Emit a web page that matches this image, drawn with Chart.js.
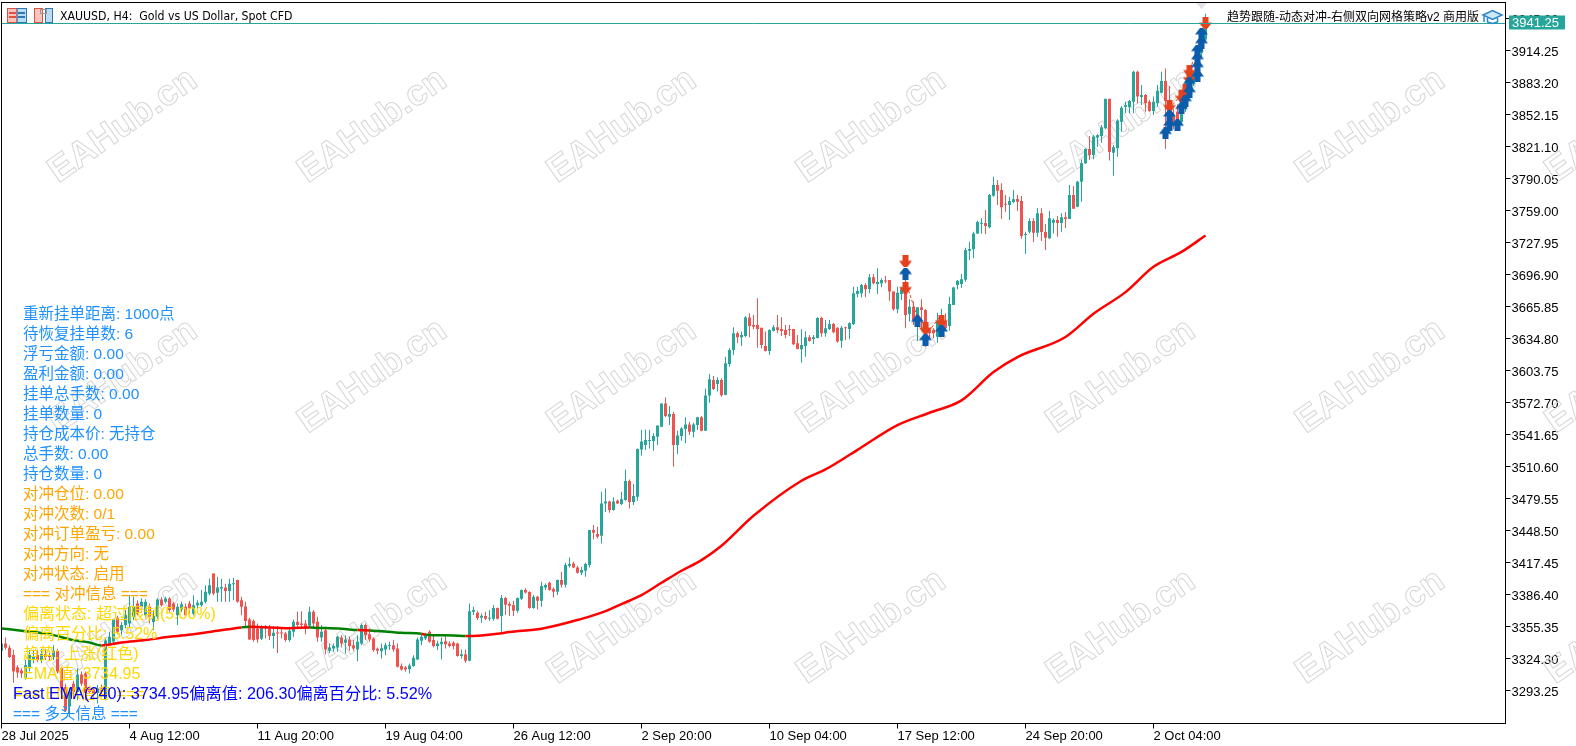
<!DOCTYPE html>
<html>
<head>
<meta charset="utf-8">
<title>XAUUSD H4</title>
<script src="https://cdn.jsdelivr.net/npm/chart.js@4/dist/chart.umd.min.js"></script>
<style>
  html, body { margin: 0; padding: 0; background: #fff; overflow: hidden; }
  canvas { display: block; }
</style>
</head>
<body>
<canvas id="myChart" width="1576" height="746"></canvas>
<script>
// H4 candles, one entry per bar
var opens = [
  3332,3339,3335,3328,3316,3313,3306,3315,3324,3328,
  3323,3329,3328,3326,3332,3315,3297,3278,3300,3292,
  3309,3310,3295.5,3294.5,3291,3295.5,3286,3339,3341,3364,
  3352,3357,3358.5,3365,3378,3374.7,3366.6,3374.7,3360,3365,
  3381.8,3379.6,3382.8,3378,3366.6,3372,3374.7,3378,3368,3376.3,
  3376.3,3379.6,3387.7,3407,3388.3,3392.5,3393.5,3390,3396.7,3400.6,
  3381,3375,3362.4,3361,3353.7,3343.7,3356,3353.7,3346.3,3349.5,
  3349.5,3348.9,3342.4,3350.5,3360.2,3358.6,3358.6,3356.3,3369.9,3360.2,
  3345,3352,3332,3334.3,3335.3,3345,3339.8,3343,3337.5,3333.3,
  3339,3357,3348.2,3344,3334,3331.7,3333.3,3336.6,3337.5,3334.3,
  3317.2,3315.9,3314.2,3317.2,3323.6,3341.7,3344,3350.5,3342.4,3336.6,
  3338.5,3341.4,3339,3339.8,3339,3326.9,3328.8,3322.3,3369.9,3369,
  3364,3365.7,3363.1,3363.1,3373.5,3365.7,3383.2,3377.4,3376.4,3370.9,
  3382.6,3391,3389,3373.5,3384.5,3380.6,3393.5,3398,3391.9,3389.3,
  3400.7,3396.1,3414.6,3416.8,3412.9,3407.8,3409.7,3415.2,3449.2,3445.3,
  3443.7,3475,3477,3468.6,3477.6,3474.4,3478.3,3496.7,3476.3,3481.5,
  3527.4,3531.6,3535.5,3535.5,3539.7,3549.4,3572,3559.1,3561.7,3531.6,
  3540.4,3547.2,3551.7,3544.6,3551,3558.5,3545.5,3579.6,3594.8,3590.9,
  3594.8,3580.2,3610.3,3623.9,3640,3636.2,3637.5,3655.3,3648.1,3648.1,
  3645.5,3627.8,3622.9,3642.6,3645.9,3644.2,3643.3,3643.9,3644.2,3630.3,
  3624.5,3627.8,3636.2,3634.5,3635.5,3654.9,3640,3644.2,3649.1,3645.5,
  3632.9,3645.5,3644.2,3649.1,3678.2,3678.9,3687,3683,3694.4,3687.9,
  3688.6,3691.1,3691.8,3680.5,3663.3,3678.2,3685.3,3658.8,3665.9,3654.6,
  3665.3,3662.7,3643.3,3643.3,3636.8,3646.5,3651.4,3647.2,3667.5,3687,
  3688,3692,3720.2,3721.5,3737,3746.4,3747,3742.9,3773.6,3784,
  3779.1,3765.5,3764.5,3767.4,3770.3,3768.4,3735.4,3738.7,3749,3737.7,
  3756.5,3738.3,3732.2,3747.4,3750,3747,3752.6,3751,3774.2,3762.9,
  3787.2,3805,3818.9,3813.1,3830,3831.5,3839,3867.7,3815.3,3819.5,
  3845.4,3859.6,3859.3,3864.8,3893.9,3869.3,3871.3,3864.8,3855.8,3863.2,
  3873.5,3884.9,3866,3852,3855,3845,3858,3870,3884,3890,3912,3925
];
var highs = [
  3341,3345,3337.5,3333,3318,3315,3323,3333,3333,3333,
  3334,3334,3330,3337.5,3334,3316.5,3300,3295.5,3303,3315,
  3312,3312,3298,3297,3299,3299,3345,3350.5,3363,3366,
  3360,3371.5,3386,3384.4,3381,3383,3382,3378,3371.5,3383,
  3384,3384.4,3384,3379.6,3378,3379.6,3378,3380.5,3386,3381,
  3391,3395.7,3402,3407,3403.8,3402,3397,3402,3403,3401,
  3384.4,3379.6,3364,3362.4,3358.5,3357,3357,3357,3356,3356,
  3353.7,3350.5,3355.3,3362.4,3369.9,3370.5,3361.8,3374.7,3371.5,3365,
  3357,3355.3,3339,3339,3346.3,3347,3347,3345.6,3342.4,3347,
  3358.6,3358.6,3353.7,3345,3335.3,3339,3339.8,3340.8,3342.4,3339,
  3319.7,3317.2,3319.7,3327.8,3345,3348.2,3349.5,3352,3346.3,3341.7,
  3345,3346.3,3341.4,3341.4,3339.8,3333.3,3333.3,3378,3374.8,3370.9,
  3368.3,3370,3371.6,3376.4,3374.1,3386.1,3384.5,3379.6,3380.6,3383.8,
  3391.6,3392.6,3389.7,3386.1,3385.1,3399,3397.4,3399,3393.5,3401.3,
  3408.7,3417.5,3422.6,3418.4,3414.2,3413.6,3417.5,3449.2,3454,3452.4,
  3486.4,3489.6,3477.6,3480.9,3478.9,3486.4,3508,3498.3,3493.8,3528.4,
  3546.2,3546.8,3546.2,3543,3550.7,3572,3577.9,3569.5,3564,3545.6,
  3548.8,3558.5,3554.3,3553.3,3559,3559.8,3586.6,3600.6,3598.7,3597.4,
  3596.4,3617.4,3625.5,3645.9,3641.7,3641.7,3656.9,3659.5,3657.8,3674,
  3645.5,3641.7,3643.9,3648.1,3657.8,3655.6,3648.1,3648.1,3644.2,3638.4,
  3643.9,3641.7,3638.4,3638.4,3655.6,3656.2,3653,3653,3650.4,3645.9,
  3647.2,3646.5,3650.7,3685.3,3685.3,3687.9,3688.6,3697.6,3697.6,3703.1,
  3693.4,3695.7,3691.8,3680.5,3685.3,3685.3,3696.6,3673,3670.8,3665.3,
  3673,3663.3,3644.9,3644.9,3660.1,3664,3659.5,3675.6,3685.3,3691.8,
  3697.6,3723,3729,3738.7,3749.3,3751.6,3759.7,3775.2,3792,3788.8,
  3785.6,3774.2,3772.6,3779.1,3774.2,3773.3,3738.7,3751.6,3751.6,3761.3,
  3761.3,3746.1,3758.7,3751.6,3753.9,3756.5,3757.4,3784,3783,3788,
  3808.8,3819.5,3831.5,3832.5,3833.5,3842.2,3867.7,3867.7,3822.8,3847.7,
  3860.6,3864.8,3866.4,3894.9,3894.9,3881,3872.2,3866.4,3869.7,3881,
  3893.9,3897,3880,3858,3862,3860,3872,3896,3893,3915,3930,3950
];
var lows = [
  3331,3333,3325,3301,3306,3306,3304,3312,3320,3321,
  3320,3323,3323,3323,3310,3287,3273,3268,3285,3284,
  3298,3284,3290,3287,3281,3289,3284,3337.5,3339,3348,
  3347,3354,3355,3362,3366.6,3371.5,3364,3358.5,3352,3363,
  3375,3378,3370,3370,3357,3370,3365,3368,3366.6,3371.5,
  3374.7,3378,3386,3386,3379.6,3379.6,3379.6,3379.6,3381,3378.6,
  3366.6,3355,3342.4,3340.8,3339.8,3342.4,3344,3342.4,3334.3,3330,
  3344,3340.8,3340.8,3345.6,3353.7,3353.7,3348.2,3353.7,3353.7,3340.8,
  3340.8,3328.8,3330,3331,3331,3335.3,3329.4,3332,3332,3322,
  3337.5,3342.4,3340.8,3331,3328.8,3324.6,3327.8,3332.7,3331,3315.9,
  3312.6,3311.7,3310,3316.5,3323,3337.5,3342.4,3339.8,3335.3,3332.7,
  3323.6,3334.3,3335.3,3333.3,3326.2,3324.6,3320.4,3322,3366.7,3361.9,
  3359.3,3361.9,3361.2,3361.2,3362.5,3350.5,3366.7,3365.7,3365.7,3369,
  3381.2,3387.7,3372.9,3372.9,3372.2,3374.8,3391,3390.3,3383.8,3386.1,
  3393.5,3393.5,3412.9,3412,3407.1,3405.5,3403.9,3412.9,3440.1,3441.1,
  3436.2,3466.6,3466,3467.9,3474.4,3473.4,3477.6,3470.2,3473.4,3477.6,
  3521.6,3526.8,3528.4,3526.1,3531.6,3548.8,3558.5,3551,3510.6,3522.9,
  3535.8,3533.3,3541.3,3539,3546.2,3545,3545.5,3572.8,3585.1,3583.5,
  3578.6,3580.2,3607.7,3619,3630.3,3627.8,3636.2,3636.2,3643.9,3626.1,
  3625.5,3622.3,3619,3641.7,3640,3637.5,3635.2,3637.5,3628.7,3624.5,
  3611.6,3617.4,3632,3629.7,3635.2,3636.8,3636.8,3643.3,3640,3631,
  3626.1,3633.6,3634.2,3648.1,3675,3674.7,3675,3678.9,3687.6,3678.2,
  3684.7,3688.6,3671.7,3662,3659.5,3672.4,3644.9,3651.4,3648.1,3632.9,
  3644.9,3627.1,3635.2,3635.2,3631,3643,3643.3,3642.6,3667.5,3682.7,
  3684,3690,3711.2,3712.8,3736.4,3737,3736.4,3741.9,3772.6,3764.5,
  3750.9,3758,3750,3766.2,3758.7,3731.9,3717,3737,3728.6,3733.8,
  3729.6,3720.9,3731.5,3737,3733.8,3738.7,3741.9,3751,3760.9,3762.3,
  3767.8,3804.3,3808.2,3808.9,3821.1,3825,3838,3807.6,3793,3811.4,
  3835.7,3853.5,3853.5,3853.5,3863.2,3861.6,3855.1,3855.1,3851.9,3860,
  3872.9,3819,3849,3838,3842,3842,3855,3868,3880,3886,3908,3922
];
var closes = [
  3339,3335,3326,3312,3311,3310,3318,3328,3326,3323,
  3329,3326,3326,3332,3312,3295.5,3274,3292,3292,3309,
  3300,3291,3292,3291,3295.5,3292,3342,3345.6,3362.4,3350.5,
  3357,3366.6,3374.7,3374.7,3368,3379.6,3379.6,3365,3365.7,3381.8,
  3376.3,3382.8,3371.5,3372,3374.7,3377.3,3366.6,3373,3376.3,3378.6,
  3379.6,3389.3,3395.7,3387.7,3393.5,3394,3390,3397,3397.4,3379.6,
  3374.7,3361,3343,3342.4,3343,3355.3,3353.7,3346.3,3349.5,3348.9,
  3348.9,3342.4,3351.4,3360.2,3357,3357,3353.7,3369.9,3358.6,3345,
  3350.5,3333.3,3335.3,3336.6,3345.6,3339,3343,3336.6,3334.3,3340.8,
  3357,3347.2,3343,3332.7,3332,3334.6,3337.5,3337.5,3333.3,3316.5,
  3314,3314,3317.8,3325.2,3343,3345.6,3347.2,3340.8,3336.6,3339,
  3340.8,3338.5,3336.6,3336.6,3326.9,3328.8,3322.3,3370.5,3371.6,3363.8,
  3366,3363.1,3364.1,3373.5,3363.1,3383.2,3376.7,3375.8,3370.9,3383.2,
  3391,3388.7,3373.5,3384.5,3380.6,3394.8,3395.8,3391,3389.3,3400.7,
  3396.1,3415.2,3416.2,3412.9,3407.8,3410.4,3416.2,3449.2,3446.6,3442.7,
  3475,3477,3468.6,3477,3475,3479,3496.7,3476.3,3482.2,3527.8,
  3535.2,3536.5,3536.5,3540.4,3550.7,3572,3559.8,3561.7,3531.6,3541,
  3547.8,3551.7,3544.6,3551.7,3558.5,3545.5,3579.8,3595.4,3586,3594.8,
  3579.9,3610.9,3623.9,3640,3636.2,3638.4,3655.3,3647.2,3646.5,3644.2,
  3628.7,3622.9,3643.3,3645.9,3643.3,3642.3,3638.4,3643.3,3629.4,3624.8,
  3628.7,3636.2,3632.6,3636.2,3654.9,3640,3644.9,3649.1,3641,3632,
  3645.5,3644.9,3649.7,3678.9,3681.1,3687,3682.7,3694.4,3688.6,3689.9,
  3691.8,3690.2,3680.5,3663.3,3679.5,3682.7,3657.8,3665.9,3653,3665.3,
  3662.7,3643.3,3640,3640,3651.4,3657.8,3644.9,3668.5,3684.4,3691.1,
  3692.4,3720.9,3721.8,3737,3748,3747,3744.2,3774.2,3784,3778.4,
  3762.3,3764.9,3768.4,3770,3767.8,3734.5,3736.1,3749,3737.7,3756.5,
  3738.3,3732.8,3751.6,3750,3747,3752.6,3751,3774.2,3761,3787.2,
  3805,3818.9,3813.1,3830.9,3832.2,3839.9,3867.7,3816,3820.5,3846.4,
  3859,3861.2,3865.5,3893.9,3869.7,3871.3,3863.2,3855.8,3864.8,3875.5,
  3884.9,3865.5,3852,3845,3846,3858,3870,3884,3890,3912,3925,3941.25
];

// EMA(240) read every few bars, trend says which colour the stretch has
var emaBars = [0,6,12,18,22,25,30,36,42,48,54,60,62,72,77,78,85,89,92,100,105,106,113,116,120,124,127,135,145,150,155,160,165,170,175,180,188,200,206,214,224,232,240,248,254,266,273,281,288,295,301];
var emaValues = [3353.7,3351.1,3348.2,3342.4,3340.1,3337.2,3340.1,3342.4,3345.6,3348.2,3351.4,3354.7,3355.3,3354,3354.7,3354.5,3353.4,3352.1,3351.8,3349.5,3348.5,3347.6,3346.9,3346.3,3346.9,3348.5,3350.2,3353.4,3363,3369,3377.4,3386.1,3398,3409.7,3420,3433.9,3463,3497,3508,3527,3551,3563,3575,3602.5,3617,3636.5,3659,3680,3704.6,3719,3734.95];
var emaTrend = ['d','d','d','d','d','u','u','u','u','u','u','d','u','u','d','d','d','u','d','d','u','d','d','u','u','u','u','u','u','u','u','u','u','u','u','u','u','u','u','u','u','u','u','u','u','u','u','u','u','u','u'];

// trade arrows
var buyBars = [226,229,231,235,291,292,294,292,295,296,297,297,299,299,299,299,300,300];
var buyPrices = [3697.9,3651.7,3633.9,3642.3,3834,3842,3842,3851,3858.3,3865.8,3874.5,3882.6,3889.7,3898.8,3906.5,3914.3,3922,3930.5];
var sellBars = [226,226,231,235,292,295,296,297,297,301];
var sellPrices = [3709.9,3684.4,3645.2,3652.3,3861,3870,3876,3888,3895,3941];
var linkBars = [226,229,231,231,235];
var linkPrices = [3691,3655,3648,3638,3658];
var linkBars2 = [292,295,297,301];
var linkPrices2 = [3858,3872,3894,3941];

var priceTicks = [3293.25,3324.30,3355.35,3386.40,3417.45,3448.50,3479.55,3510.60,3541.65,3572.70,3603.75,3634.80,3665.85,3696.90,3727.95,3759.00,3790.05,3821.10,3852.15,3883.20,3914.25,3945.30];
var timeTickBars = [0,32,64,96,128,160,192,224,256,288];
var timeLabels = ['28 Jul 2025','4 Aug 12:00','11 Aug 20:00','19 Aug 04:00','26 Aug 12:00','2 Sep 20:00','10 Sep 04:00','17 Sep 12:00','24 Sep 20:00','2 Oct 04:00'];
var lastPrice = 3941.25;

var infoLines = [
  '重新挂单距离: 1000点','待恢复挂单数: 6','浮亏金额: 0.00','盈利金额: 0.00','挂单总手数: 0.00',
  '挂单数量: 0','持仓成本价: 无持仓','总手数: 0.00','持仓数量: 0','对冲仓位: 0.00',
  '对冲次数: 0/1','对冲订单盈亏: 0.00','对冲方向: 无','对冲状态: 启用','=== 对冲信息 ===',
  '偏离状态: 超过限制(5.00%)','偏离百分比: 5.52%','趋势: 上涨(红色)','EMA值: 3734.95','=== EMA信息 ==='
];
var fastLine = 'Fast EMA(240): 3734.95偏离值: 206.30偏离百分比: 5.52%';
var longLine = '=== 多头信息 ===';

var UP = '#26a69a', DOWN = '#ef5350';
var uiFont = '"Liberation Sans", "Noto Sans CJK SC", sans-serif';

function pts(xs, ys) {
  return xs.map(function(x, i) { return { x: x, y: ys[i] }; });
}

function makeArrow(color, down) {
  var c = document.createElement('canvas');
  c.width = 13; c.height = 12;
  var g = c.getContext('2d');
  if (down) { g.translate(0, 12); g.scale(1, -1); }
  g.fillStyle = color;
  g.beginPath();
  g.moveTo(5, 0); g.lineTo(8, 0); g.lineTo(13, 6.5); g.lineTo(9.5, 6.5); g.lineTo(9.5, 12);
  g.lineTo(3.5, 12); g.lineTo(3.5, 6.5); g.lineTo(0, 6.5);
  g.closePath();
  g.fill();
  return c;
}

// watermark goes under the candles
var watermark = {
  id: 'watermark',
  beforeDatasetsDraw: function(chart) {
    var ctx = chart.ctx;
    ctx.save();
    ctx.font = 'bold 36px "Liberation Sans"';
    ctx.strokeStyle = '#d6d6d6';
    ctx.lineWidth = 1;
    ctx.textAlign = 'center';
    ctx.textBaseline = 'middle';
    for (var r = 0; r < 3; r++) {
      for (var k = 0; k < 7; k++) {
        ctx.save();
        ctx.translate(123 + k * 249.5, 126 + r * 250.5);
        ctx.rotate(-35 * Math.PI / 180);
        ctx.strokeText('EAHub.cn', 0, 0);
        ctx.restore();
      }
    }
    ctx.restore();
  }
};

function drawIcons(ctx) {
  var x, k;
  // table icon
  ctx.fillStyle = '#f9c4bd'; ctx.fillRect(8, 9, 9, 13);
  ctx.fillStyle = '#bcdcf2'; ctx.fillRect(17, 9, 9, 13);
  ctx.strokeStyle = '#e0503f'; ctx.lineWidth = 1; ctx.strokeRect(7.5, 8.5, 9.5, 14);
  ctx.strokeStyle = '#2a78b8'; ctx.strokeRect(17, 8.5, 9.5, 14);
  for (k = 0; k < 2; k++) {
    ctx.fillStyle = '#e0503f'; ctx.fillRect(9, 12 + k * 4, 7, 2);
    ctx.fillStyle = '#2a78b8'; ctx.fillRect(18, 12 + k * 4, 7, 2);
  }
  // book icon
  x = 34;
  ctx.fillStyle = '#f9c4bd'; ctx.fillRect(x + 1, 9, 7, 13);
  ctx.fillStyle = '#bcdcf2'; ctx.fillRect(x + 11, 9, 7, 13);
  ctx.strokeStyle = '#e0503f'; ctx.strokeRect(x + 0.5, 8.5, 8, 14);
  ctx.strokeStyle = '#2a78b8'; ctx.strokeRect(x + 11.5, 8.5, 7, 14);
  ctx.strokeStyle = '#999'; ctx.strokeRect(x + 6.5, 9.5, 6, 4);
  // graduation cap
  ctx.fillStyle = '#cfe6f5'; ctx.strokeStyle = '#2a86c8'; ctx.lineWidth = 1.5;
  ctx.beginPath();
  ctx.moveTo(1483, 15); ctx.lineTo(1492.5, 10.5); ctx.lineTo(1502, 15); ctx.lineTo(1492.5, 19.5);
  ctx.closePath(); ctx.fill(); ctx.stroke();
  ctx.beginPath();
  ctx.moveTo(1487.5, 18); ctx.lineTo(1487.5, 22); ctx.lineTo(1492.5, 23.5); ctx.lineTo(1497.5, 22); ctx.lineTo(1497.5, 18);
  ctx.moveTo(1484, 16); ctx.lineTo(1484, 22);
  ctx.stroke();
}

function infoColor(i) {
  if (i < 9) return '#1e90ff';
  if (i < 15) return '#ffa500';
  return '#ffd700';
}

var overlay = {
  id: 'overlay',
  afterDraw: function(chart) {
    var ctx = chart.ctx, a = chart.chartArea, y = chart.scales.y;
    ctx.save();

    // last price line and tag
    var py = Math.round(y.getPixelForValue(lastPrice)) + 0.5;
    ctx.strokeStyle = UP; ctx.lineWidth = 1;
    ctx.beginPath(); ctx.moveTo(a.left, py); ctx.lineTo(a.right, py); ctx.stroke();
    ctx.fillStyle = UP; ctx.fillRect(1509, py - 8, 56, 14);
    ctx.fillStyle = '#fff';
    ctx.font = '13px ' + uiFont;
    ctx.textAlign = 'left'; ctx.textBaseline = 'middle';
    ctx.fillText(lastPrice.toFixed(2), 1512, py);

    // frame
    ctx.strokeStyle = '#000'; ctx.lineWidth = 1;
    ctx.strokeRect(a.left, a.top, a.right - a.left, a.bottom - a.top);

    // small marker above the last bar
    ctx.fillStyle = '#e4e0e8';
    ctx.beginPath(); ctx.moveTo(1196, 3); ctx.lineTo(1207, 3); ctx.lineTo(1201.5, 9); ctx.closePath(); ctx.fill();

    // header
    ctx.fillStyle = '#000';
    ctx.font = '12.2px "DejaVu Sans Condensed", "DejaVu Sans"';
    ctx.fillText('XAUUSD, H4:  Gold vs US Dollar, Spot CFD', 60, 16.5);
    ctx.font = '12px ' + uiFont;
    ctx.textAlign = 'right';
    ctx.fillText('趋势跟随-动态对冲-右侧双向网格策略v2 商用版', 1479, 17.5);
    ctx.textAlign = 'left';
    drawIcons(ctx);

    // status lines
    for (var i = 0; i < infoLines.length; i++) {
      ctx.font = (i < 15 ? '15.5px ' : '16px ') + uiFont;
      ctx.fillStyle = infoColor(i);
      ctx.fillText(infoLines[i], i === 19 ? 13 : 23, 314.5 + i * 20);
    }
    ctx.font = '16.2px ' + uiFont;
    ctx.fillStyle = '#0000ff';
    ctx.fillText(fastLine, 13, 694.5);
    ctx.font = '15.5px ' + uiFont;
    ctx.fillStyle = '#1e90ff';
    ctx.fillText(longLine, 13, 714.5);
    ctx.restore();
  }
};

var ctx = document.getElementById('myChart').getContext('2d');
var barIdx = opens.map(function(v, i) { return i; });
var candleColors = closes.map(function(c, i) { return c >= opens[i] ? UP : DOWN; });

var mixedChart = new Chart(ctx, {
  type: 'bar',
  data: {
    datasets: [{
      label: 'Wick',
      data: barIdx.map(function(i) { return { x: i, y: [lows[i], highs[i]] }; }),
      backgroundColor: candleColors,
      barThickness: 1,
      grouped: false,
      inflateAmount: 0,
      order: 6
    }, {
      label: 'Body',
      data: barIdx.map(function(i) { return { x: i, y: [opens[i], closes[i]] }; }),
      backgroundColor: candleColors,
      barThickness: 3,
      minBarLength: 1,
      grouped: false,
      inflateAmount: 0,
      order: 5
    }, {
      type: 'line',
      label: 'EMA',
      data: pts(emaBars, emaValues),
      borderColor: '#ff0000',
      borderWidth: 2.5,
      pointRadius: 0,
      cubicInterpolationMode: 'monotone',
      segment: {
        borderColor: function(c) { return emaTrend[c.p0DataIndex] === 'd' ? '#008000' : '#ff0000'; }
      },
      order: 4
    }, {
      type: 'line',
      label: 'Links',
      data: pts(linkBars, linkPrices),
      borderColor: '#e8431f',
      borderWidth: 1,
      borderDash: [3, 2],
      pointRadius: 0,
      order: 3
    }, {
      type: 'line',
      label: 'Links 2',
      data: pts(linkBars2, linkPrices2),
      borderColor: '#e8431f',
      borderWidth: 1,
      borderDash: [3, 2],
      pointRadius: 0,
      order: 3
    }, {
      type: 'scatter',
      label: 'Sell',
      data: pts(sellBars, sellPrices),
      pointStyle: makeArrow('#e2431e', true),
      order: 2
    }, {
      type: 'scatter',
      label: 'Buy',
      data: pts(buyBars, buyPrices),
      pointStyle: makeArrow('#0b5cab', false),
      order: 1
    }]
  },
  plugins: [watermark, overlay],
  options: {
    responsive: false,
    animation: false,
    devicePixelRatio: 1,
    layout: { autoPadding: false, padding: { left: 1.5, top: 2.5, right: 0, bottom: 0 } },
    plugins: { legend: { display: false }, title: { display: false }, tooltip: { enabled: false } },
    scales: {
      x: {
        type: 'linear',
        min: 0,
        max: 376,
        offset: false,
        afterBuildTicks: function(s) { s.ticks = timeTickBars.map(function(v) { return { value: v }; }); },
        afterFit: function(s) { s.height = 22.5; s.paddingLeft = 0; s.paddingRight = 0; },
        grid: { offset: false, drawOnChartArea: false, drawTicks: true, tickLength: 5, color: '#000' },
        border: { display: false },
        ticks: {
          autoSkip: false,
          maxRotation: 0,
          align: 'start',
          padding: 0,
          color: '#000',
          font: { family: uiFont, size: 13 },
          callback: function(v) { return timeLabels[timeTickBars.indexOf(v)]; }
        }
      },
      y: {
        position: 'right',
        min: 3261.5,
        max: 3961,
        afterBuildTicks: function(s) { s.ticks = priceTicks.map(function(v) { return { value: v }; }); },
        afterFit: function(s) { s.width = 70.5; s.paddingTop = 0; s.paddingBottom = 0; },
        grid: { drawOnChartArea: false, drawTicks: true, tickLength: 5, color: '#000' },
        border: { display: false },
        ticks: {
          autoSkip: false,
          padding: 1,
          labelOffset: 1.5,
          color: '#000',
          font: { family: uiFont, size: 13 },
          callback: function(v) { return v.toFixed(2); }
        }
      }
    }
  }
});
</script>
</body>
</html>
